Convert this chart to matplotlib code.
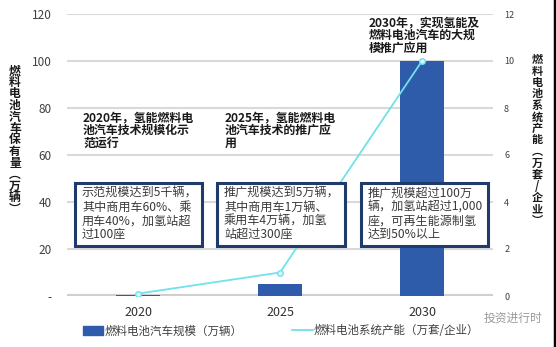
import matplotlib.pyplot as plt
from matplotlib.patches import Rectangle
from matplotlib.lines import Line2D

plt.rcParams['font.family'] = ['Noto Sans CJK SC', 'DejaVu Sans']

W, H = 556, 347

years = ['2020', '2025', '2030']
fcv_scale = [0.5, 5, 100]          # 燃料电池汽车规模（万辆）
system_capacity = [0.1, 1, 10]     # 燃料电池系统产能（万套/企业）
left_ticks = [0, 20, 40, 60, 80, 100, 120]
left_ticklabels = ['-', '20', '40', '60', '80', '100', '120']
right_ticks = [0, 2, 4, 6, 8, 10, 12]

stage_titles = ['2020年，氢能燃料电\n池汽车技术规模化示\n范运行',
                '2025年，氢能燃料电\n池汽车技术的推广应\n用',
                '2030年，实现氢能及\n燃料电池汽车的大规\n模推广应用']
stage_notes = ['示范规模达到5千辆，\n其中商用车60%、乘\n用车40%，加氢站超\n过100座',
               '推广规模达到5万辆，\n其中商用车1万辆、\n乘用车4万辆，加氢\n站超过300座',
               '推广规模超过100万\n辆，加氢站超过1,000\n座，可再生能源制氢\n达到50%以上']


def fx(px):
    return px / W


def fy(py):
    return 1 - py / H


fig = plt.figure(figsize=(W / 100, H / 100), dpi=100)
ax = fig.add_axes([fx(67), fy(296), fx(493) - fx(67), fy(14) - fy(296)])
ax2 = ax.twinx()

x = list(range(len(years)))
ax.bar(x, fcv_scale, width=0.31, color='#2E5BAA', zorder=3)
ax.set_ylim(0, 120)
ax.set_xlim(-0.5, 2.5)
ax.set_yticks(left_ticks)
ax.set_yticklabels(left_ticklabels)
ax.set_xticks(x)
ax.set_xticklabels(years)
ax.yaxis.grid(True, color='#D9D9D9', lw=1.5, zorder=0)
ax.axhline(0, color='#D0D0D0', lw=3, zorder=1)
ax.set_axisbelow(True)
ax.tick_params(axis='y', length=0, pad=11, labelsize=8.5, labelcolor='#404040')
ax.tick_params(axis='x', length=0, pad=7, labelsize=9, labelcolor='#303030')

ax2.plot(x, system_capacity, color='#6FE2EA', lw=1.3, marker='o', ms=4,
         mfc='#D8F8FA', mec='#6FE2EA', zorder=4)
ax2.set_ylim(0, 12)
ax2.set_yticks(right_ticks)
ax2.tick_params(axis='y', length=0, pad=8, labelsize=6.5, labelcolor='#404040')

for a in (ax, ax2):
    for s in a.spines.values():
        s.set_visible(False)

# stacked vertical axis titles
left_label = '燃料电池汽车保有量︵万辆︶'
right_label = '燃料电池系统产能︵万套/企业︶'
fig.text(fx(15), fy(140), '\n'.join(left_label), ha='center', va='center',
         fontsize=8.5, fontweight='bold', linespacing=0.85, color='#1a1a1a')
fig.text(fx(537), fy(140), '\n'.join(right_label), ha='center', va='center',
         fontsize=8, fontweight='bold', linespacing=0.85, color='#1a1a1a')

# stage titles
title_pos = [(83, 111), (225, 111), (369, 16)]
for (px, py), t in zip(title_pos, stage_titles):
    fig.text(fx(px), fy(py), t, ha='left', va='top', fontsize=8.6,
             fontweight='bold', linespacing=1.0, color='#1a1a1a', zorder=6)

# note boxes
box_pos = [(75, 183, 202, 246), (217, 183, 345, 246), (361, 183, 488, 246)]
for (x0, y0, x1, y1), t in zip(box_pos, stage_notes):
    fig.add_artist(Rectangle((fx(x0), fy(y1)), fx(x1) - fx(x0), fy(y0) - fy(y1),
                             transform=fig.transFigure, facecolor='white',
                             edgecolor='#1F3A6B', lw=2.2, zorder=5))
    fig.text(fx(x0 + 7), fy(y0 + 4), t, ha='left', va='top', fontsize=8.7,
             linespacing=1.07, color='#3a3a3a', zorder=6)

# legend
handles = [Rectangle((0, 0), 1, 1, color='#2E5BAA'),
           Line2D([0], [0], color='#6FE2EA', lw=1.3)]
labels = ['燃料电池汽车规模（万辆）', '燃料电池系统产能（万套/企业）']
leg = fig.legend(handles, labels, loc='center left', bbox_to_anchor=(fx(78), fy(331)),
                 ncol=2, frameon=False, handlelength=1.8, handletextpad=0.1,
                 columnspacing=4.3, fontsize=8.3, borderaxespad=0)
for txt in leg.get_texts():
    txt.set_color('#404040')

fig.text(fx(484), fy(318), '投资进行时', ha='left', va='center', fontsize=8.5,
         color='#9A9A9A')
fig.add_artist(Line2D([fx(555), fx(555)], [0, 1], color='black', lw=2.5,
                      transform=fig.transFigure))

plt.savefig('out.png', dpi=100)
